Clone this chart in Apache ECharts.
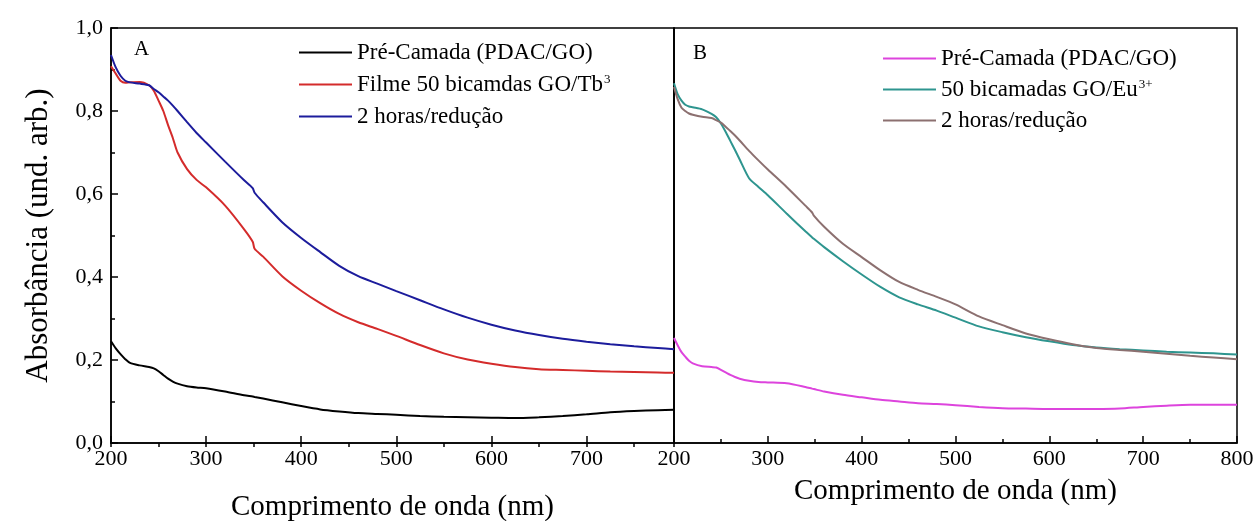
<!DOCTYPE html>
<html>
<head>
<meta charset="utf-8">
<script src="https://cdn.jsdelivr.net/npm/echarts@6/dist/echarts.min.js"></script>
<style>
html,body{margin:0;padding:0;background:#fff;}
#c{width:1258px;height:521px;}
</style>
</head>
<body>
<div id="c"></div>
<script>
// ---------- DATA ----------
const wavelengthA = [200,205,210,215,220,230,240,245,250,255,260,265,270,280,290,300,320,340,349,351,360,380,400,420,440,460,480,500,525,550,575,600,625,650,675,700,725,750,775,792];
const preCamadaA = [0.245,0.228,0.214,0.202,0.193,0.187,0.183,0.180,0.173,0.164,0.155,0.148,0.143,0.137,0.134,0.132,0.124,0.115,0.112,0.111,0.107,0.098,0.089,0.081,0.076,0.072,0.070,0.068,0.065,0.063,0.062,0.061,0.060,0.062,0.065,0.069,0.074,0.077,0.079,0.080];
const filmeTbA = [0.908,0.890,0.873,0.868,0.869,0.870,0.862,0.849,0.825,0.800,0.766,0.735,0.700,0.660,0.634,0.616,0.572,0.515,0.485,0.468,0.449,0.402,0.367,0.337,0.311,0.291,0.275,0.258,0.236,0.216,0.201,0.191,0.183,0.178,0.176,0.174,0.172,0.171,0.170,0.169];
const reducaoA = [0.935,0.905,0.885,0.873,0.869,0.866,0.862,0.853,0.845,0.835,0.825,0.813,0.800,0.773,0.747,0.724,0.678,0.633,0.614,0.603,0.580,0.532,0.494,0.460,0.427,0.402,0.384,0.366,0.344,0.322,0.302,0.285,0.271,0.260,0.251,0.244,0.238,0.233,0.229,0.226];

const wavelengthB = [200,204,208,212,216,220,230,240,245,250,255,260,265,270,280,290,300,320,340,347,349,360,380,400,420,440,460,480,500,525,550,575,600,625,650,675,700,725,750,775,800];
const preCamadaB = [0.253,0.235,0.219,0.208,0.198,0.192,0.185,0.183,0.182,0.176,0.170,0.164,0.159,0.155,0.150,0.147,0.146,0.144,0.135,0.131,0.130,0.124,0.116,0.110,0.104,0.100,0.096,0.094,0.091,0.087,0.084,0.083,0.082,0.082,0.082,0.083,0.087,0.090,0.092,0.092,0.092];
const bicamadasEuB = [0.867,0.840,0.825,0.815,0.811,0.809,0.804,0.793,0.785,0.770,0.750,0.728,0.706,0.683,0.638,0.617,0.597,0.553,0.510,0.496,0.492,0.472,0.438,0.406,0.376,0.351,0.334,0.319,0.302,0.281,0.267,0.255,0.245,0.236,0.230,0.226,0.223,0.220,0.218,0.216,0.213];
const reducaoB = [0.858,0.828,0.808,0.800,0.794,0.791,0.786,0.783,0.778,0.772,0.762,0.752,0.741,0.729,0.704,0.681,0.659,0.617,0.572,0.556,0.548,0.521,0.480,0.448,0.416,0.388,0.369,0.352,0.334,0.305,0.284,0.264,0.250,0.238,0.229,0.224,0.220,0.215,0.210,0.206,0.202];

const legendLabelsA = ['Pré-Camada (PDAC/GO)', 'Filme 50 bicamdas GO/Tb{sup|3}', '2 horas/redução'];
const legendLabelsB = ['Pré-Camada (PDAC/GO)', '50 bicamadas GO/Eu{sup|3+}', '2 horas/redução'];
const xTitle = 'Comprimento de onda (nm)';
const yTitle = 'Absorbância (und. arb.)';

// ---------- CHART ----------
const FONT = 'Liberation Serif';
const pairs = (xs, ys) => xs.map((x, i) => [x, ys[i]]);
const chart = echarts.init(document.getElementById('c'));

const labelMap = {A1: legendLabelsA[0], A2: legendLabelsA[1], A3: legendLabelsA[2], B1: legendLabelsB[0], B2: legendLabelsB[1], B3: legendLabelsB[2]};
const richSup = {sup: {fontSize: 13, fontFamily: FONT, color: '#000', verticalAlign: 'top', lineHeight: 12, padding: [0, 0, 0, 1]}};

const axisLineStyle = {color: '#000', width: 1.5};
const baseX = {
  type: 'value', splitLine: {show: false},
  axisLine: {show: true, onZero: false, lineStyle: axisLineStyle},
  axisTick: {show: true, inside: true, length: 7, lineStyle: axisLineStyle},
  axisLabel: {color: '#000', fontSize: 22, fontFamily: FONT, margin: 5,
              formatter: v => (v % 100 === 0 ? String(v) : '')},
  nameLocation: 'middle',
  nameTextStyle: {color: '#000', fontSize: 29, fontFamily: FONT}
};
const minorX = {
  type: 'value', splitLine: {show: false},
  axisLine: {show: false},
  axisTick: {show: true, inside: true, length: 4, lineStyle: axisLineStyle},
  axisLabel: {show: false}
};

function lineSeries(id, xi, yi, xs, ys, color) {
  return {
    type: 'line', name: id, xAxisIndex: xi, yAxisIndex: yi,
    data: pairs(xs, ys), symbol: 'none', smooth: 0.25,
    lineStyle: {color: color, width: 2}, itemStyle: {color: color},
    clip: true
  };
}

const legendBase = {
  orient: 'vertical', padding: 0, itemWidth: 53, itemHeight: 2, icon: 'rect',
  formatter: n => labelMap[n], selectedMode: false,
  textStyle: {color: '#000', fontSize: 23, fontFamily: FONT, lineHeight: 23, rich: richSup}
};

const gridBase = {top: 28, width: 563, height: 415, show: true, borderColor: '#000', borderWidth: 1.5,
                  containLabel: false, outerBoundsMode: 'none'};

const option = {
  animation: false,
  backgroundColor: '#fff',
  textStyle: {fontFamily: FONT},
  grid: [
    Object.assign({}, gridBase, {left: 111}),
    Object.assign({}, gridBase, {left: 674})
  ],
  xAxis: [
    Object.assign({}, baseX, {gridIndex: 0, min: 200, max: 792, interval: 100, name: xTitle, nameGap: 50}),
    Object.assign({}, baseX, {gridIndex: 1, min: 200, max: 800, interval: 100, name: xTitle, nameGap: 34,
      minorTick: {show: true, splitNumber: 2, length: 4, lineStyle: axisLineStyle}}),
    Object.assign({}, minorX, {gridIndex: 0, min: 200, max: 792, interval: 50})
  ],
  yAxis: [
    {type: 'value', gridIndex: 0, min: 0, max: 1, interval: 0.2, splitLine: {show: false},
     axisLine: {show: true, lineStyle: axisLineStyle},
     axisTick: {show: true, inside: true, length: 7, lineStyle: axisLineStyle},
     minorTick: {show: true, splitNumber: 2, length: 4, lineStyle: axisLineStyle},
     axisLabel: {color: '#000', fontSize: 22, fontFamily: FONT, margin: 8,
                 formatter: v => v.toFixed(1).replace('.', ',')},
     name: yTitle, nameLocation: 'middle', nameGap: 57,
     nameTextStyle: {color: '#000', fontSize: 31, fontFamily: FONT}},
    {type: 'value', gridIndex: 1, min: 0, max: 1, interval: 0.2, splitLine: {show: false},
     axisLine: {show: true, lineStyle: axisLineStyle}, axisTick: {show: false}, axisLabel: {show: false}}
  ],
  legend: [
    Object.assign({}, legendBase, {data: ['A1', 'A2', 'A3'], left: 299, top: 41, itemGap: 9}),
    Object.assign({}, legendBase, {data: ['B1', 'B2', 'B3'], left: 883, top: 47, itemGap: 8})
  ],
  graphic: [
    {type: 'text', left: 134, top: 39, style: {text: 'A', fontSize: 21, fontFamily: FONT, fill: '#000'}},
    {type: 'text', left: 693, top: 43, style: {text: 'B', fontSize: 21, fontFamily: FONT, fill: '#000'}}
  ],
  series: [
    lineSeries('A1', 0, 0, wavelengthA, preCamadaA, '#000000'),
    lineSeries('A2', 0, 0, wavelengthA, filmeTbA, '#d42b2b'),
    lineSeries('A3', 0, 0, wavelengthA, reducaoA, '#1c1c9c'),
    lineSeries('B1', 1, 1, wavelengthB, preCamadaB, '#dd44dd'),
    lineSeries('B2', 1, 1, wavelengthB, bicamadasEuB, '#2e958f'),
    lineSeries('B3', 1, 1, wavelengthB, reducaoB, '#8c7070')
  ]
};
chart.setOption(option);
</script>
</body>
</html>
